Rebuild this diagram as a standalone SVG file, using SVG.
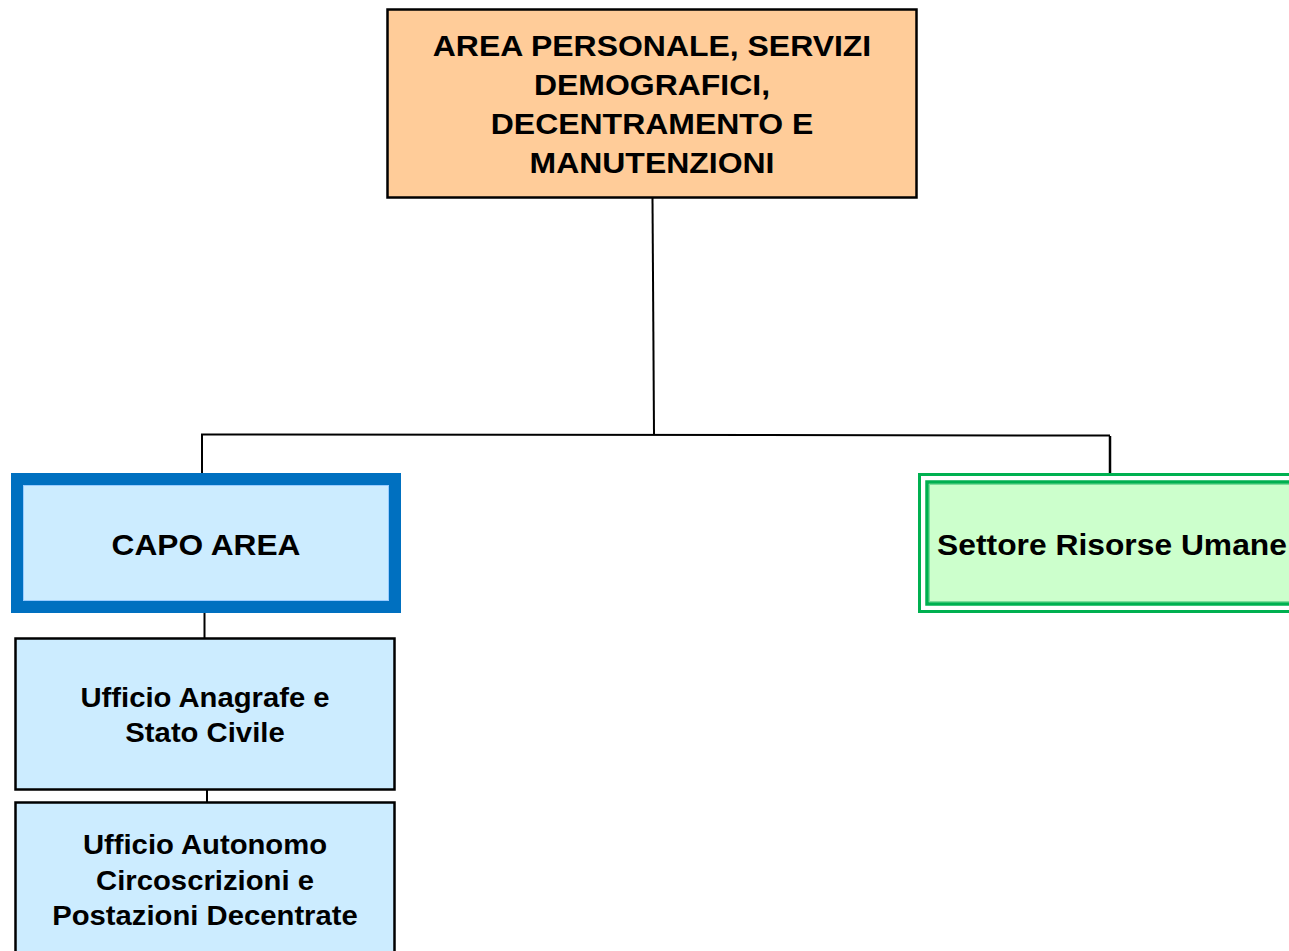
<svg xmlns="http://www.w3.org/2000/svg" width="1289" height="951" viewBox="0 0 1289 951">
<style>
text{font-family:"Liberation Sans",Arial,sans-serif;font-weight:bold;fill:#000;text-anchor:middle}
.conn{stroke:#000;stroke-width:2;fill:none}
.box{stroke:#000;stroke-width:2.5}
.t30{font-size:30px}
.t28{font-size:28px}
</style>
<rect width="1289" height="951" fill="#fff"/>
<g id="connectors">
<line class="conn" x1="652.5" y1="198" x2="654" y2="434"/>
<polyline class="conn" points="202,474 202,434.5 1110,435.5"/>
<line x1="1110" y1="436" x2="1110" y2="479" stroke="#000" stroke-width="2.5"/>
<line class="conn" x1="204.5" y1="613" x2="204.5" y2="638"/>
<line class="conn" x1="207" y1="790" x2="207" y2="802"/>
</g>
<g id="node-area">
<rect class="box" x="387.5" y="9.5" width="529" height="188" fill="#FFCC99"/>
<g transform="translate(652 0) scale(1.065 1)">
<text class="t30" x="0" y="56">AREA PERSONALE, SERVIZI</text>
<text class="t30" x="0" y="95">DEMOGRAFICI,</text>
<text class="t30" x="0" y="134">DECENTRAMENTO E</text>
<text class="t30" x="0" y="173">MANUTENZIONI</text>
</g>
</g>
<g id="node-capo">
<rect x="17" y="479" width="378" height="128" fill="#CCECFF" stroke="#0070C0" stroke-width="12"/>
<rect x="23.5" y="485.5" width="365" height="115" fill="none" stroke="#99CCFF" stroke-width="1"/>
<text class="t30" transform="translate(206 0) scale(1.056 1)" x="0" y="555">CAPO AREA</text>
</g>
<g id="node-settore">
<rect x="919.5" y="474.5" width="420" height="137" fill="#fff" stroke="#00B050" stroke-width="3"/>
<rect x="927" y="482" width="420" height="122" fill="#CCFFCC" stroke="#00B050" stroke-width="3.5"/>
<rect x="929.5" y="484.5" width="420" height="117" fill="none" stroke="#7DDC9A" stroke-width="1"/>
<text class="t30" transform="translate(1112 0) scale(1.06 1)" x="0" y="555">Settore Risorse Umane</text>
</g>
<g id="node-anagrafe">
<rect class="box" x="15.5" y="638.5" width="379" height="151" fill="#CCECFF"/>
<g transform="translate(205 0) scale(1.045 1)">
<text class="t28" x="0" y="707">Ufficio Anagrafe e</text>
<text class="t28" x="0" y="742">Stato Civile</text>
</g>
</g>
<g id="node-autonomo">
<rect class="box" x="15.5" y="802.5" width="379" height="170" fill="#CCECFF"/>
<g transform="translate(205 0) scale(1.045 1)">
<text class="t28" x="0" y="854">Ufficio Autonomo</text>
<text class="t28" x="0" y="890">Circoscrizioni e</text>
<text class="t28" x="0" y="925">Postazioni Decentrate</text>
</g>
</g>
</svg>
